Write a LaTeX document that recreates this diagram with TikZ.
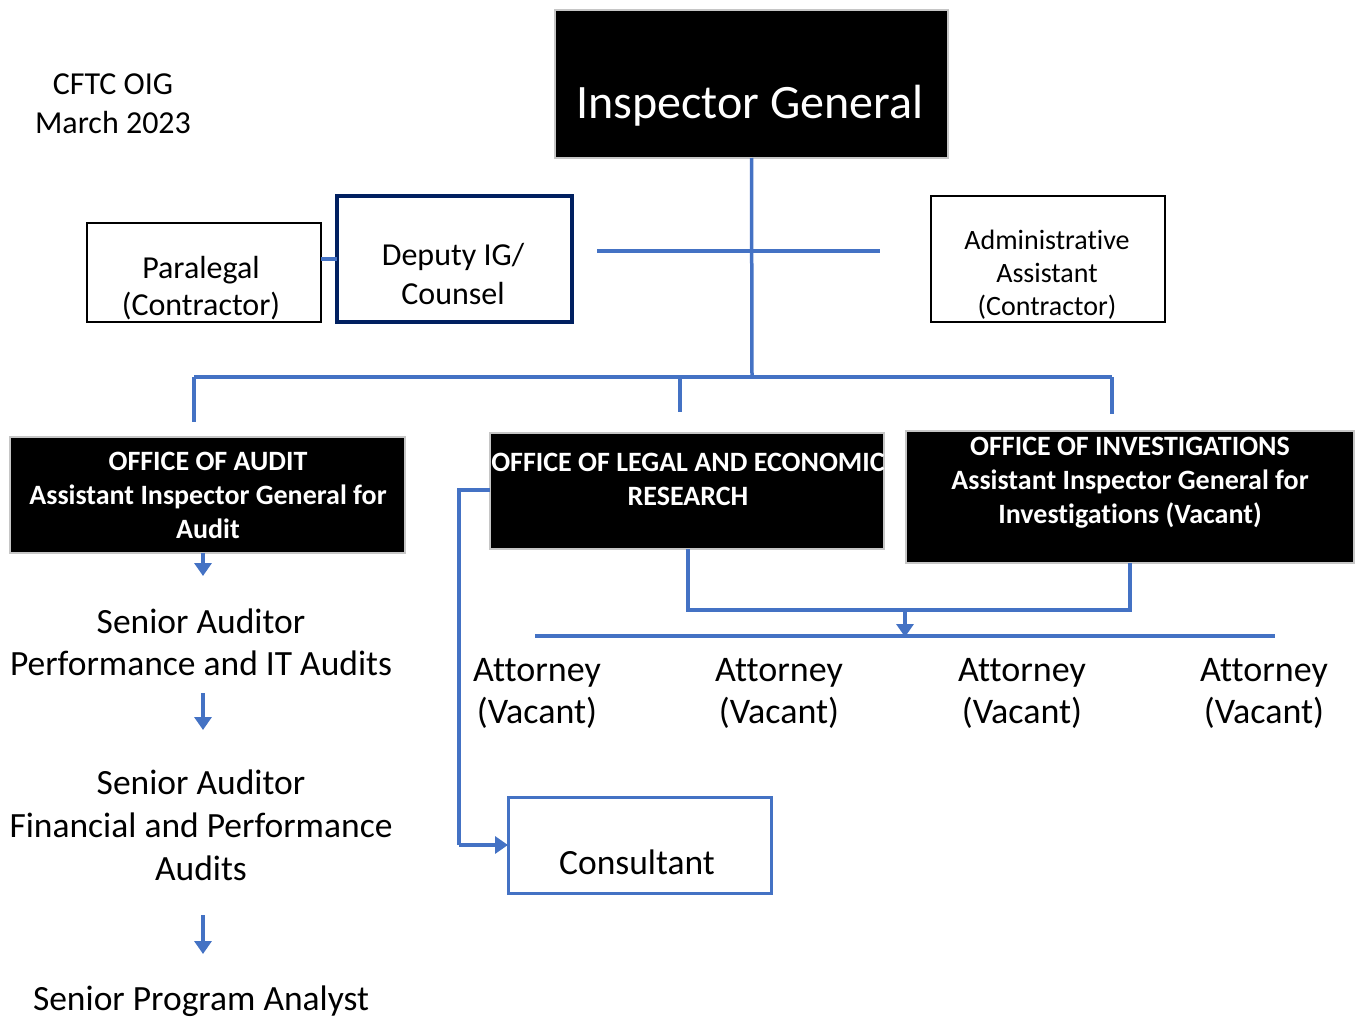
\documentclass[tikz,border=0pt]{standalone}
\usepackage{fontspec}
\setmainfont[Ligatures=NoCommon]{Carlito}
\usetikzlibrary{arrows.meta}
\definecolor{lnblue}{HTML}{4472C4}
\definecolor{navy}{HTML}{002060}
\newcommand{\fs}[2]{\fontsize{#1}{#2}\selectfont}
\begin{document}
\begin{tikzpicture}[x=1pt,y=-1pt,
  conn/.style={draw=lnblue, line width=3.5pt},
  arr/.style={conn, -{Triangle[width=17pt,length=13pt]}},
  box/.style={anchor=north west, inner sep=0pt, outer sep=0pt},
  blackbox/.style={box, fill=black, draw=gray!45, line width=1.2pt},
  wtext/.style={text=white, align=center, inner sep=0pt},
  btext/.style={text=black, align=center, inner sep=0pt},
  offtext/.style={wtext, font=\bfseries\fs{28}{34}}
]
\useasboundingbox (0,0) rectangle (1360,1017);

% title
\node[btext, font=\fs{32}{39}] (title) at (113,104) {CFTC OIG\\March 2023};

% Inspector General
\node[blackbox, minimum width=393pt, minimum height=148pt] (ig) at (555,10) {};
\node[wtext, font=\fs{48}{56}] (igt) at (750,106) {Inspector General};

% Paralegal
\node[box, draw=black, line width=2.5pt, minimum width=234pt, minimum height=99pt] (par) at (87,223) {};
\node[btext, font=\fs{32}{37}] (part) at (201,288) {Paralegal\\(Contractor)};

% Deputy
\node[box, draw=navy, line width=4.5pt, minimum width=235pt, minimum height=126pt] (dep) at (337,196) {};
\node[btext, font=\fs{32}{39}] (dept) at (453,274) {Deputy IG/\\Counsel};

% Admin
\node[box, draw=black, line width=1.3pt, minimum width=234pt, minimum height=126pt] (adm) at (931,196) {};
\node[btext, font=\fs{28}{33}] (admt) at (1047,275) {Administrative\\Assistant\\(Contractor)};

% Offices
\node[blackbox, minimum width=395pt, minimum height=116pt] (aud) at (10,437) {};
\node[offtext] (audt) at (208,495) {OFFICE OF AUDIT\\Assistant Inspector General for\\Audit};

\node[blackbox, minimum width=394pt, minimum height=116pt] (leg) at (490,433) {};
\begin{scope}
  \clip (490,433) rectangle (884,549);
  \node[offtext] (legt) at (688,479) {OFFICE OF LEGAL AND ECONOMIC\\RESEARCH};
\end{scope}

\node[blackbox, minimum width=448pt, minimum height=132pt] (inv) at (906,431) {};
\node[offtext] (invt) at (1130,483) {OFFICE OF INVESTIGATIONS\\Assistant Inspector General for\\Investigations (Vacant)};

% Audit chain
\node[btext, font=\fs{35.5}{42}] (sa1) at (201,642) {Senior Auditor\\Performance and IT Audits};
\node[btext, font=\fs{35.5}{43}] (sa2) at (201,825) {Senior Auditor\\Financial and Performance\\Audits};
\node[btext, font=\fs{35.5}{42}] (spa) at (201,1001) {Senior Program Analyst};

% Attorneys
\foreach \x/\n in {537/a1,779/a2,1022/a3,1264/a4}{
  \node[btext, font=\fs{36}{42}] (\n) at (\x,693) {Attorney\\(Vacant)};
}

% Consultant
\node[box, draw=lnblue, line width=3pt, minimum width=263pt, minimum height=96pt] (con) at (508,797) {};
\node[btext, font=\fs{35.5}{42}] (cont) at (637,862) {Consultant};

% connector coordinates
\coordinate (bus) at (752,377);
\coordinate (hl) at (597,251);
\coordinate (hr) at (880,251);
\coordinate (busL) at (194,377);
\coordinate (busR) at (1112,377);
\coordinate (attL) at (535,636);
\coordinate (attR) at (1275,636);
\coordinate (merge) at (905,610);

% connectors
\draw[conn] (ig.south) -- (bus);
\draw[conn] (hl) -- (hr);
\draw[conn] (dep.west) -- (dep.west -| par.east);
\draw[conn] (busL) -- (busR);
\draw[conn] (busL) -- (194,422);
\draw[conn] (680,377) -- (680,412);
\draw[conn] (busR) -- (1112,414);

\draw[arr] (203,553) -- (203,576);
\draw[arr] (203,693) -- (203,730);
\draw[arr] (203,915) -- (203,954);

\draw[conn] (688,549) -- (688,610) -- (1130,610) -- (1130,563);
\draw[arr] (merge) -- (905,637);
\draw[conn] (attL) -- (attR);

\draw[conn] (490,490) -- (459,490) -- (459,845);
\draw[arr] (459,845) -- (con.west |- 0,845);
\end{tikzpicture}
\end{document}
